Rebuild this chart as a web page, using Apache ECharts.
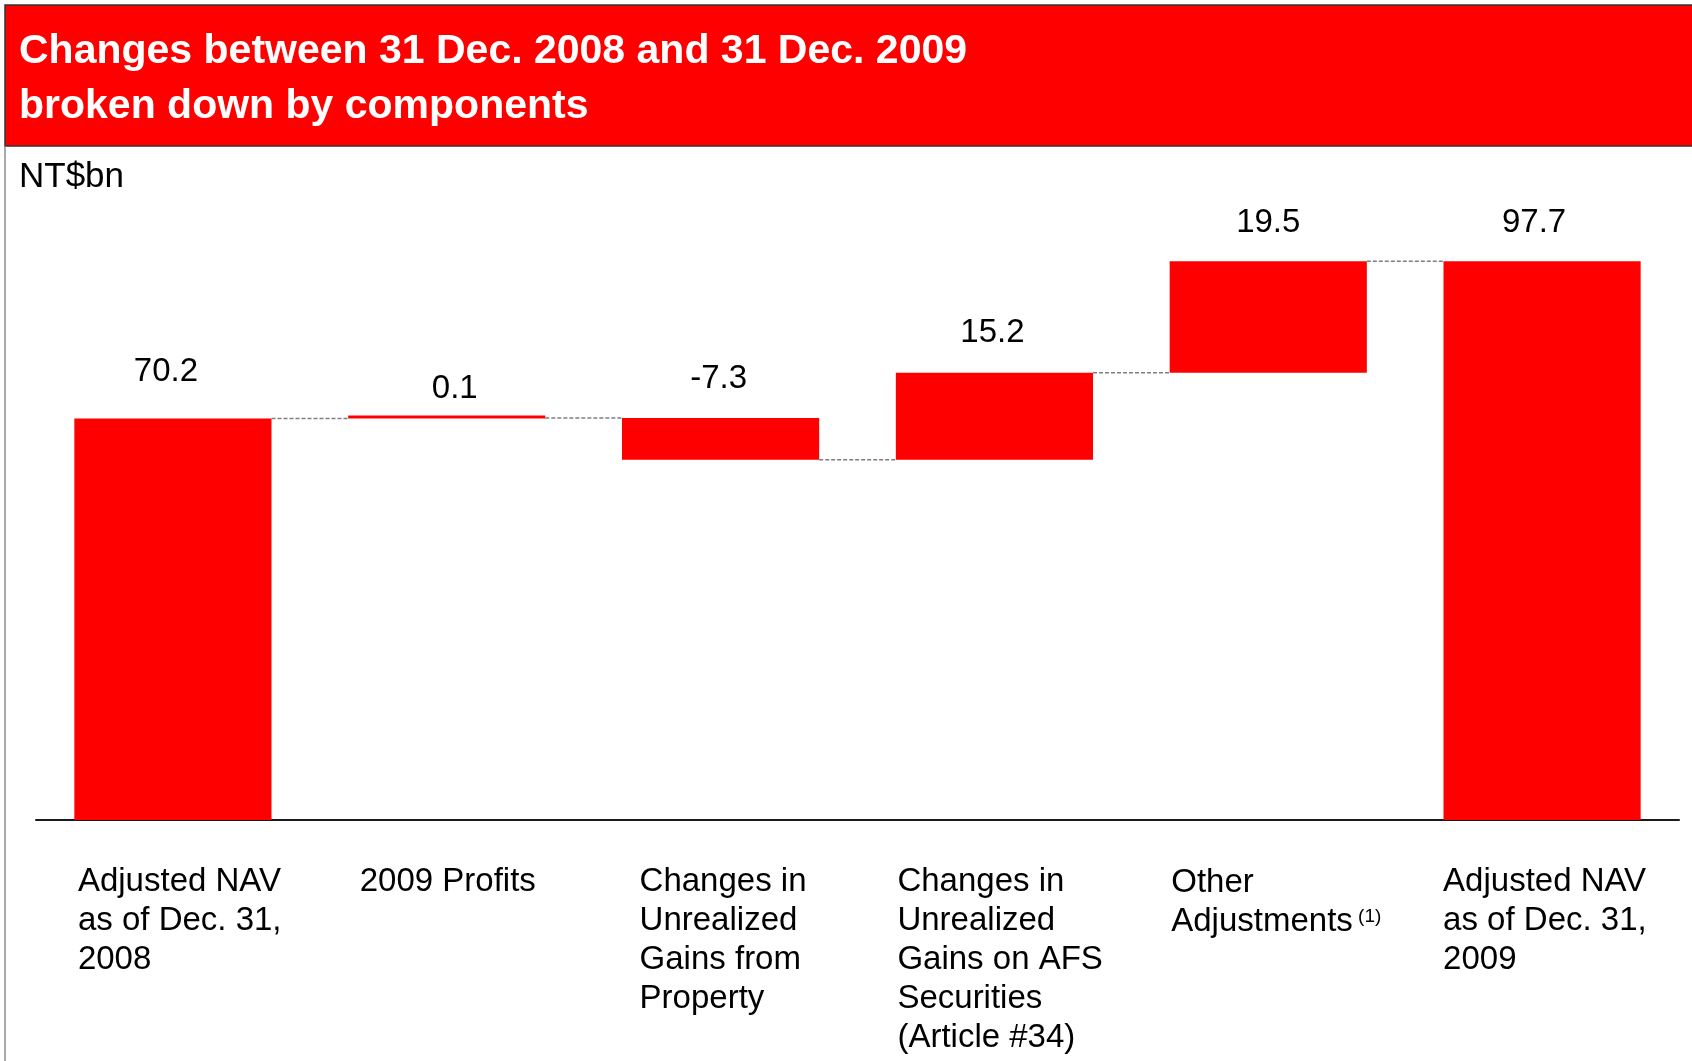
<!DOCTYPE html>
<html>
<head>
<meta charset="utf-8">
<script src="https://cdn.jsdelivr.net/npm/echarts@6/dist/echarts.min.js"></script>
<style>
  html, body { margin: 0; padding: 0; background: #ffffff; }
  #chart { width: 1692px; height: 1061px; }
</style>
</head>
<body>
<div id="chart"></div>
<script>
// Components of the change in adjusted NAV (NT$bn)
const categories = [
  'Adjusted NAV\nas of Dec. 31,\n2008',
  '2009 Profits',
  'Changes in\nUnrealized\nGains from\nProperty',
  'Changes in\nUnrealized\nGains on AFS\nSecurities\n(Article #34)',
  'Other\nAdjustments',
  'Adjusted NAV\nas of Dec. 31,\n2009'
];
const footnotes = ['', '', '', '', '(1)', ''];
const changes = [70.2, 0.1, -7.3, 15.2, 19.5, 97.7];
const isTotal = [true, false, false, false, false, true];

// Layout tweaks: value label nudges [dx, gap above bar top], category label indents [dx, dy]
const labelNudge = [[-7, 29], [8, 9], [-2, 21], [-2, 22], [0, 20], [-8, 20]];
const categoryIndent = [[4, 0], [12, 0], [18, 0], [2, 0], [2, 3], [0, 0]];

const FONT = '"Liberation Sans", Arial, Helvetica, sans-serif';
const RED = '#ff0000';

// Waterfall: invisible base + visible step, plus connector levels
const baseVals = [];
const stepVals = [];
const connectors = [];
let running = 0;
changes.forEach((v, i) => {
  if (isTotal[i]) {
    baseVals.push(0);
    stepVals.push(v);
    running = v;
  } else if (v >= 0) {
    baseVals.push(running);
    stepVals.push(v);
    running += v;
  } else {
    running += v;
    baseVals.push(running);
    stepVals.push(-v);
  }
  running = Math.round(running * 10) / 10;
  if (i < changes.length - 1) connectors.push([i, running]);
});

// One rich style per category so each label block can carry its own indent
const richStyles = {
  s: {
    fontSize: 19, lineHeight: 20, color: '#000000', fontFamily: FONT,
    align: 'left', verticalAlign: 'middle', padding: [0, 0, 7, 0]
  }
};
categoryIndent.forEach(([dx, dy], i) => {
  richStyles['t' + i] = {
    fontSize: 33, lineHeight: 39, color: '#000000', fontFamily: FONT,
    align: 'left', padding: [dy, 0, 0, dx]
  };
});

const chart = echarts.init(document.getElementById('chart'), null, { renderer: 'canvas' });

chart.setOption({
  animation: false,
  backgroundColor: '#ffffff',
  title: {
    text: 'Changes between 31 Dec. 2008 and 31 Dec. 2009\nbroken down by components',
    left: 19,
    top: 24,
    z: 10,
    padding: 0,
    textStyle: {
      color: '#ffffff',
      fontSize: 41,
      fontWeight: 'bold',
      lineHeight: 55,
      fontFamily: FONT
    }
  },
  graphic: [
    {
      type: 'rect',
      z: 0,
      shape: { x: 5, y: 5, width: 1700, height: 141 },
      style: { fill: RED, stroke: '#333333', lineWidth: 1.5 }
    },
    {
      type: 'line',
      z: 0,
      shape: { x1: 5, y1: 146, x2: 5, y2: 1061 },
      style: { stroke: '#8c8c8c', lineWidth: 1.5 }
    },
    {
      type: 'text',
      z: 10,
      left: 19,
      top: 160,
      style: { text: 'NT$bn', fill: '#000000', font: '35px ' + FONT }
    }
  ],
  grid: { left: 36, right: 13, top: 248, bottom: 241 },
  xAxis: {
    type: 'category',
    data: categories,
    axisTick: { show: false },
    axisLine: { lineStyle: { color: '#1a1a1a', width: 2 } },
    axisLabel: {
      interval: 0,
      margin: 42,
      width: 198,
      align: 'center',
      formatter: (value, index) => {
        const lines = value.split('\n').map(l => '{t' + index + '|' + l + '}');
        if (footnotes[index]) lines[lines.length - 1] += '{s| ' + footnotes[index] + '}';
        return lines.join('\n');
      },
      rich: richStyles
    }
  },
  yAxis: {
    type: 'value',
    min: 0,
    max: 100,
    show: false
  },
  series: [
    {
      type: 'bar',
      stack: 'wf',
      barWidth: '72%',
      silent: true,
      itemStyle: { color: 'transparent' },
      data: baseVals
    },
    {
      type: 'bar',
      stack: 'wf',
      barWidth: '72%',
      barMinHeight: 3,
      itemStyle: { color: RED },
      data: stepVals.map((v, i) => ({
        value: v,
        label: {
          show: true,
          position: 'top',
          distance: labelNudge[i][1],
          offset: [labelNudge[i][0], 0],
          formatter: () => changes[i].toFixed(1),
          color: '#000000',
          fontSize: 33,
          lineHeight: 36,
          fontFamily: FONT
        }
      }))
    },
    {
      type: 'custom',
      silent: true,
      z: 1,
      renderItem: (params, api) => {
        const i = api.value(0);
        const level = api.value(1);
        const half = api.size([1, 0])[0] * 0.36;
        const p1 = api.coord([i, level]);
        const p2 = api.coord([i + 1, level]);
        return {
          type: 'line',
          shape: { x1: p1[0] + half, y1: p1[1], x2: p2[0] - half, y2: p2[1] },
          style: { stroke: '#7f7f7f', lineWidth: 1.5, lineDash: [4, 2] }
        };
      },
      data: connectors
    }
  ]
});
</script>
</body>
</html>
